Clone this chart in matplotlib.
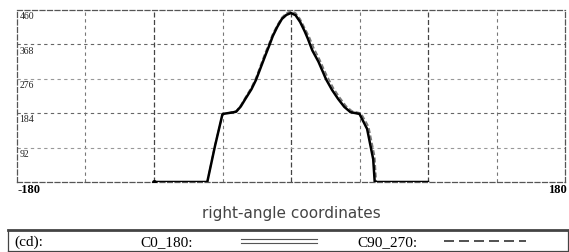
import matplotlib.pyplot as plt

# angles (deg) and luminous intensity (cd)
angles = [-90, -55, -50, -45, -40, -36, -33, -30, -26, -23, -20, -17, -14, -12, -9, -6, -3, 0,
          3, 6, 9, 11, 14, 18, 21, 23, 27, 31, 35, 39, 45, 50, 54, 55, 90]
c0_180 = [0, 0, 95, 182, 185, 188, 202, 222, 248, 273, 305, 337, 368, 390, 415, 436, 447, 452,
          446, 428, 403, 384, 352, 322, 294, 275, 246, 222, 201, 187, 182, 142, 61, 0, 0]
angles_90 = [-90, -55, -50, -45, -40, -36, -33, -30, -26, -23, -20, -17, -14, -12, -9, -6, -3, 0,
             3, 6, 9, 12, 15, 19, 22, 24, 28, 32, 36, 40, 46, 51, 55, 56, 90]
c90_270 = [0, 0, 98, 180, 186, 190, 205, 226, 253, 279, 312, 345, 375, 396, 420, 440, 452, 457,
           452, 436, 412, 388, 358, 326, 298, 281, 250, 226, 204, 190, 184, 148, 68, 0, 0]

y_ticks = [92, 184, 276, 368, 460]
x_grid = [-135, -90, -45, 0, 45, 90, 135]
x_ends = [-180, 180]

serif = ['Liberation Serif', 'DejaVu Serif']

fig = plt.figure(figsize=(5.69, 2.53), dpi=100)
ax = fig.add_axes([17 / 569, 70 / 253, 548 / 569, 172 / 253])
ax.set_xlim(-180, 180)
ax.set_ylim(0, 460)

# dashed grid, the -90/0/90 verticals a bit darker
for x in x_grid:
    dark = x in (-90, 0, 90)
    ax.axvline(x, color='#444444' if dark else '#777777', lw=0.9 if dark else 0.8,
               ls=(0, (4, 2)) if dark else (0, (3, 3)), zorder=1)
for i, y in enumerate(y_ticks[:-1]):
    ax.axhline(y, color='#666666' if i % 2 else '#999999', lw=0.8, ls=(0, (3, 3)), zorder=1)

for s in ax.spines.values():
    s.set_linestyle((0, (4, 2)))
    s.set_color('#555555')
    s.set_linewidth(0.9)

ax.set_xticks([])
ax.set_yticks([])

# y value labels inside the plot, just under each grid line
for y in y_ticks:
    ax.text(-178.5, y - 3, str(y), ha='left', va='top', fontsize=7,
            family=serif, color='#222222')

ax.plot(angles_90, c90_270, color='#777777', lw=1.2, ls=(0, (3, 1.5)), zorder=3)
ax.plot(angles, c0_180, color='black', lw=1.8, zorder=4)
ax.plot(angles[0], c0_180[0], 'o', color='black', ms=2.5, zorder=5)

# end labels under the axis
ax.text(x_ends[0], -20, '-180', ha='left', va='center', fontsize=9, fontweight='bold',
        family=serif, clip_on=False)
ax.text(x_ends[1] + 1, -20, '180', ha='right', va='center', fontsize=9, fontweight='bold',
        family=serif, clip_on=False)
ax.text(0.5, -0.18, 'right-angle coordinates', ha='center', va='center', fontsize=11,
        color='#444444', transform=ax.transAxes)

# legend strip
lax = fig.add_axes([8 / 569, 1 / 253, 560 / 569, 21 / 253])
lax.set_xlim(0, 1)
lax.set_ylim(0, 1)
lax.set_xticks([])
lax.set_yticks([])
for s in lax.spines.values():
    s.set_color('#444444')
    s.set_linewidth(0.9)
lax.spines['top'].set_linewidth(2)
lax.text(0.012, 0.45, '(cd):', ha='left', va='center', fontsize=11, family=serif)
lax.text(0.236, 0.45, 'C0_180:', ha='left', va='center', fontsize=11, family=serif)
lax.plot([0.416, 0.552], [0.55, 0.55], color='#555555', lw=0.8)
lax.plot([0.416, 0.552], [0.40, 0.40], color='#555555', lw=0.8)
lax.text(0.623, 0.45, 'C90_270:', ha='left', va='center', fontsize=11, family=serif)
lax.plot([0.778, 0.925], [0.5, 0.5], color='#333333', lw=1.2, ls=(0, (6, 3)))

fig.savefig('out.png', dpi=100)
